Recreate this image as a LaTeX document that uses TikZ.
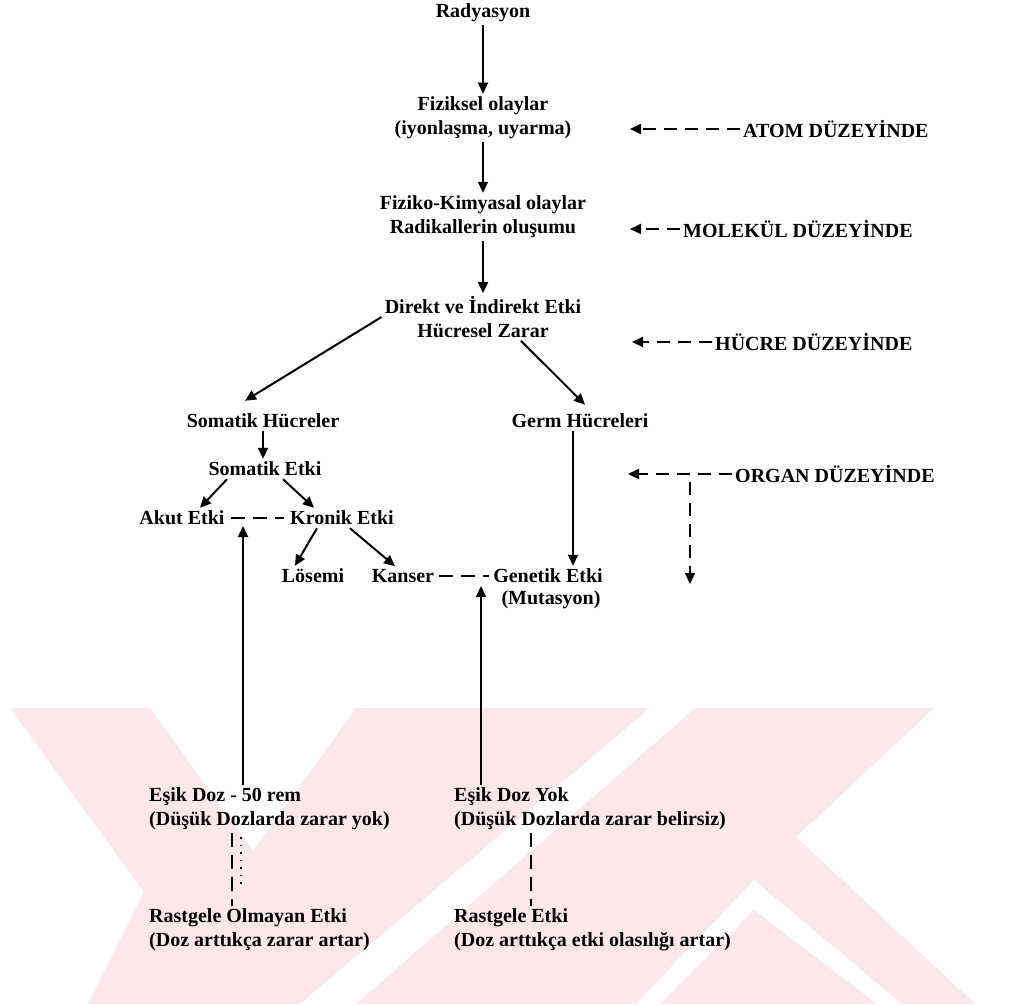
\documentclass[tikz,border=0pt]{standalone}
\usepackage{fontspec}
\setmainfont{Liberation Serif}
\usepackage{xcolor}
\usetikzlibrary{arrows.meta, calc}

\definecolor{wmpink}{RGB}{252,231,235}

\begin{document}
\begin{tikzpicture}[x=1pt, y=-1pt, >={Triangle[length=11pt, width=10pt]},
  every node/.style={font=\fontsize{20}{24}\selectfont\bfseries, inner sep=3pt},
  flow/.style={->, line width=2pt},
  level/.style={->, line width=2pt, dash pattern=on 13pt off 8pt},
  gapline/.style={line width=2pt, dash pattern=on 14pt off 8pt}]

% === Parameters ===
\pgfmathsetmacro{\wmtop}{708}     % top edge of the watermark
\pgfmathsetmacro{\wmbot}{1004}    % bottom edge of the watermark

% === Drawing region ===
\useasboundingbox (0,0) rectangle (1012,1004);

% === Watermark ===
\fill[wmpink] (10,\wmtop) -- (934,\wmtop) -- (796,837) -- (975,\wmbot)
  -- (88,\wmbot) -- (144,892) -- cycle;
\fill[white] (150,\wmtop) -- (356,\wmtop) -- (253,851) -- cycle;
\fill[white] (300,\wmbot) -- (356,\wmbot) -- (695,\wmtop) -- (650,\wmtop) -- cycle;
\fill[white] (754,880) -- (902,\wmbot) -- (877,\wmbot) -- (754,910) -- (660,\wmbot) -- (636,\wmbot) -- cycle;

% === Main chain ===
\node (rad) at (483,13) {Radyasyon};
\node[align=center] (fiz) at (483,118) {Fiziksel olaylar\\(iyonlaşma, uyarma)};
\node[align=center] (kim) at (483,217) {Fiziko-Kimyasal olaylar\\Radikallerin oluşumu};
\node[align=center] (dir) at (483,317) {Direkt ve İndirekt Etki\\Hücresel Zarar};

\draw[flow] (rad) -- (fiz);
\draw[flow] (fiz) -- (kim);
\draw[flow] (kim) -- (dir);

% === Cells ===
\node (somH) at (263,421) {Somatik Hücreler};
\node (germH) at (580,421) {Germ Hücreleri};
\node (somE) at (265,469) {Somatik Etki};
\node (akut) at (182,518) {Akut Etki};
\node (kron) at (342,518) {Kronik Etki};
\node (los) at (313,576) {Lösemi};
\node (kan) at (403,576) {Kanser};
\node (gen) at (548,576) {Genetik Etki};
\node (mut) at (551,600) {(Mutasyon)};

\draw[flow] (dir.west) -- ([xshift=-18pt, yshift=10pt]somH.north);
\draw[flow] ([xshift=38pt]dir.south) -- ([xshift=5pt, yshift=6pt]germH.north);
\draw[flow] (somH.south) -- (somH.south |- somE.north);
\draw[flow] ([xshift=-38pt]somE.south) -- ([xshift=18pt]akut.north);
\draw[flow] ([xshift=18pt]somE.south) -- ([xshift=-28pt]kron.north);
\draw[flow] ([xshift=-25pt]kron.south) -- ([xshift=-18pt]los.north);
\draw[flow] ([xshift=8pt]kron.south) -- ([xshift=-8pt]kan.north);
\draw[flow] ([xshift=-7pt]germH.south) -- ([xshift=-7pt]germH.south |- gen.north);

% Dashed links
\draw[gapline, shorten <=3pt, shorten >=3pt] (akut.east) -- (kron.west);
\draw[gapline, shorten <=2pt, shorten >=1pt] (kan.east) -- (gen.west);

% === Dose blocks ===
\node[anchor=west, align=left] (esikA) at (146,809) {Eşik Doz - 50 rem\\(Düşük Dozlarda zarar yok)};
\node[anchor=west, align=left] (esikB) at (451,809) {Eşik Doz Yok\\(Düşük Dozlarda zarar belirsiz)};
\node[anchor=west, align=left] (rastA) at (146,930) {Rastgele Olmayan Etki\\(Doz arttıkça zarar artar)};
\node[anchor=west, align=left] (rastB) at (451,930) {Rastgele Etki\\(Doz arttıkça etki olasılığı artar)};

\coordinate (akutGap) at (243,526);
\coordinate (kanGap) at (481,586);
\coordinate (dozA) at (232,0);
\coordinate (dozB) at (531,0);

\draw[flow] (esikA.north -| akutGap) -- (akutGap);
\draw[flow] (esikB.north -| kanGap) -- (kanGap);

\draw[gapline] (esikA.south -| dozA) -- (rastA.north -| dozA);
\draw[line width=1.2pt, dash pattern=on 1.5pt off 6pt] ($(esikA.south -| dozA)+(9,4)$) -- ($(rastA.north -| dozA)+(9,-22)$);
\draw[gapline] (esikB.south -| dozB) -- (rastB.north -| dozB);

% === Levels ===
\node[anchor=west] (atom) at (740,129) {ATOM DÜZEYİNDE};
\node[anchor=west] (molekul) at (680,229) {MOLEKÜL DÜZEYİNDE};
\node[anchor=west] (hucre) at (712,342) {HÜCRE DÜZEYİNDE};
\node[anchor=west] (organ) at (732,474) {ORGAN DÜZEYİNDE};

\coordinate (atomTip) at (630,129);
\coordinate (molTip) at (630,229);
\coordinate (hucTip) at (632,342);
\coordinate (orgTip) at (628,474);
\coordinate (orgDrop) at (690,482);
\coordinate (orgEnd) at (690,584);

\draw[level] (atom.west) -- (atomTip);
\draw[level] (molekul.west) -- (molTip);
\draw[level] (hucre.west) -- (hucTip);
\draw[level] (organ.west) -- (orgTip);
\draw[level] (orgDrop) -- (orgEnd);

\end{tikzpicture}
\end{document}
